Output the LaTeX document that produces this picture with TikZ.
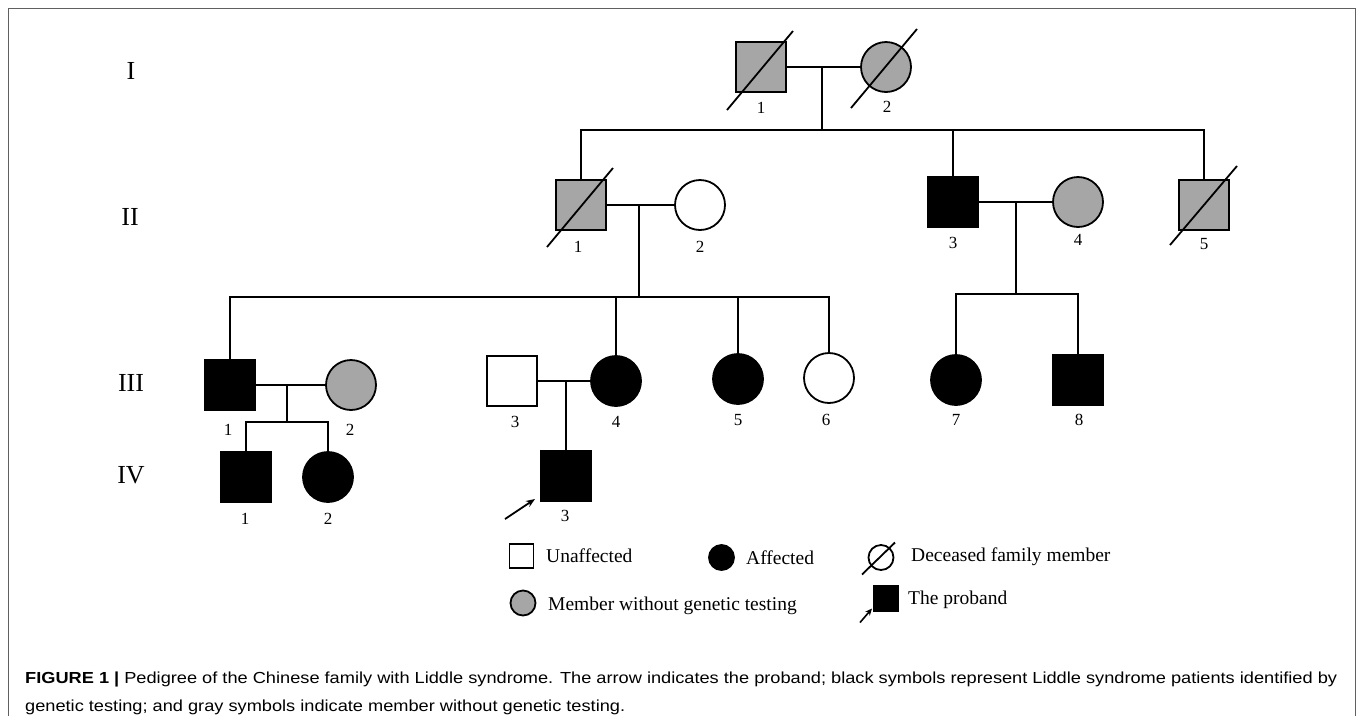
\documentclass[tikz,border=0pt]{standalone}
\usepackage{fontspec}
\setmainfont{Liberation Serif}
\newfontfamily\capfont{Liberation Sans}
\usetikzlibrary{arrows.meta}
\definecolor{pgray}{HTML}{A6A6A6}
\definecolor{framegray}{HTML}{606060}
\definecolor{captext}{HTML}{333333}
\newsavebox\capboxA
\newsavebox\capboxB
\begin{document}
\sbox\capboxA{\capfont\fontsize{16}{19}\selectfont\textbf{FIGURE 1 |} Pedigree of the Chinese family with Liddle syndrome. The arrow indicates the proband; black symbols represent Liddle syndrome patients identified by}%
\sbox\capboxB{\capfont\fontsize{16}{19}\selectfont genetic testing; and gray symbols indicate member without genetic testing.}%
\pgfmathsetmacro\capsc{1312/\wd\capboxA}%
\begin{tikzpicture}[x=1pt,y=-1pt,
  pline/.style={line width=1.8pt,line cap=rect},
  male/.style={rectangle,draw,line width=1.8pt,minimum size=50pt,inner sep=0pt},
  female/.style={circle,draw,line width=1.8pt,minimum size=50pt,inner sep=0pt},
  lmale/.style={rectangle,draw,line width=1.8pt,minimum size=24pt,inner sep=0pt},
  lfemale/.style={circle,draw,line width=1.8pt,minimum size=25pt,inner sep=0pt},
  aff/.style={fill=black},
  untested/.style={fill=pgray},
  unaff/.style={fill=white},
  slash/.style={line width=1.8pt},
  lab/.style={font=\fontsize{17}{20}\selectfont,inner sep=0pt},
  gen/.style={font=\fontsize{26}{30}\selectfont,inner sep=0pt},
  legtext/.style={font=\fontsize{19.5}{23}\selectfont,inner sep=0pt,anchor=base west},
  parr/.style={line width=1.8pt,-{Stealth[length=9pt,width=7pt]}}
]
\useasboundingbox (0,0) rectangle (1357,716);
\fill[white] (0,0) rectangle (1357,716);
\draw[framegray,line width=1pt] (8,716) -- (8,8) -- (1355,8) -- (1355,716);

% generation labels
\node[gen] (gI) at (131,71) {I};
\node[gen] (gII) at (130,217) {II};
\node[gen] (gIII) at (131,383) {III};
\node[gen] (gIV) at (131,475) {IV};

% Generation I
\node[male,untested] (I1) at (761,67) {};
\node[female,untested] (I2) at (886,67) {};
\draw[slash] ([shift={(-34,43)}]I1.center) -- ([shift={(32,-36)}]I1.center);
\draw[slash] ([shift={(-35,41)}]I2.center) -- ([shift={(31,-38)}]I2.center);
\draw[pline] (I1.east) -- (I2.west);
\coordinate (mI) at (822,67);
\coordinate (sI) at (822,130);
\draw[pline] (mI) -- (sI);
\coordinate (sIL) at (581,130);
\coordinate (sIR) at (1204,130);
\draw[pline] (sIL) -- (sIR);

% Generation II
\node[male,untested] (II1) at (581,205) {};
\node[female,unaff] (II2) at (700,205) {};
\node[male,aff] (II3) at (953,202) {};
\node[female,untested] (II4) at (1078,202) {};
\node[male,untested] (II5) at (1204,205) {};
\draw[slash] ([shift={(-34,42)}]II1.center) -- ([shift={(32,-37)}]II1.center);
\draw[slash] ([shift={(-34,40)}]II5.center) -- ([shift={(33,-39)}]II5.center);
\draw[pline] (sIL) -- (II1.north);
\coordinate (dII3) at (953,130);
\draw[pline] (dII3) -- (II3.north);
\draw[pline] (sIR) -- (II5.north);
\draw[pline] (II1.east) -- (II2.west);
\draw[pline] (II3.east) -- (II4.west);
\coordinate (mII1) at (639,205);
\coordinate (sII1) at (639,297);
\draw[pline] (mII1) -- (sII1);
\coordinate (mII3) at (1016,202);
\coordinate (sII3) at (1016,294);
\draw[pline] (mII3) -- (sII3);

% Generation III
\node[male,aff] (III1) at (230,385) {};
\node[female,untested] (III2) at (351,385) {};
\node[male,unaff] (III3) at (512,381) {};
\node[female,aff] (III4) at (616,381) {};
\node[female,aff] (III5) at (738,379) {};
\node[female,unaff] (III6) at (829,378) {};
\node[female,aff] (III7) at (956,380) {};
\node[male,aff] (III8) at (1078,380) {};
\coordinate (sIIL) at (230,297);
\coordinate (sIIR) at (829,297);
\draw[pline] (sIIL) -- (sIIR);
\draw[pline] (sIIL) -- (III1.north);
\draw[pline] (616,297) -- (III4.north);
\draw[pline] (738,297) -- (III5.north);
\draw[pline] (sIIR) -- (III6.north);
\coordinate (sIIbL) at (956,294);
\coordinate (sIIbR) at (1078,294);
\draw[pline] (sIIbL) -- (sIIbR);
\draw[pline] (sIIbL) -- (III7.north);
\draw[pline] (sIIbR) -- (III8.north);
\draw[pline] (III1.east) -- (III2.west);
\draw[pline] (III3.east) -- (III4.west);
\coordinate (mIII1) at (287,385);
\coordinate (sIII1) at (287,422);
\draw[pline] (mIII1) -- (sIII1);
\coordinate (sIII1L) at (246,422);
\coordinate (sIII1R) at (328,422);
\draw[pline] (sIII1L) -- (sIII1R);
\coordinate (mIII3) at (566,381);

% Generation IV
\node[male,aff] (IV1) at (246,477) {};
\node[female,aff] (IV2) at (328,477) {};
\node[male,aff] (IV3) at (566,476) {};
\draw[pline] (sIII1L) -- (IV1.north);
\draw[pline] (sIII1R) -- (IV2.north);
\draw[pline] (mIII3) -- (IV3.north);
\draw[parr] ([shift={(-61,43)}]IV3.center) -- ([shift={(-31,23)}]IV3.center);

% individual numbers
\node[lab] at ([yshift=-41pt]I1.center) {1};
\node[lab] at ([yshift=-40pt,xshift=1pt]I2.center) {2};
\node[lab] at ([yshift=-42pt,xshift=-3pt]II1.center) {1};
\node[lab] at ([yshift=-42pt]II2.center) {2};
\node[lab] at ([yshift=-41pt]II3.center) {3};
\node[lab] at ([yshift=-38pt]II4.center) {4};
\node[lab] at ([yshift=-39pt]II5.center) {5};
\node[lab] at ([yshift=-45pt,xshift=-2pt]III1.center) {1};
\node[lab] at ([yshift=-45pt,xshift=-1pt]III2.center) {2};
\node[lab] at ([yshift=-41pt,xshift=3pt]III3.center) {3};
\node[lab] at ([yshift=-41pt]III4.center) {4};
\node[lab] at ([yshift=-41pt]III5.center) {5};
\node[lab] at ([yshift=-42pt,xshift=-3pt]III6.center) {6};
\node[lab] at ([yshift=-40pt]III7.center) {7};
\node[lab] at ([yshift=-40pt,xshift=1pt]III8.center) {8};
\node[lab] at ([yshift=-42pt,xshift=-1pt]IV1.center) {1};
\node[lab] at ([yshift=-42pt]IV2.center) {2};
\node[lab] at ([yshift=-40pt,xshift=-1pt]IV3.center) {3};

% legend
\node[lmale,unaff] (LU) at (521.5,556) {};
\node[legtext] (LUt) at (546,562) {Unaffected};
\node[lfemale,aff] (LA) at (721.5,557.5) {};
\node[legtext] (LAt) at (746,564) {Affected};
\node[lfemale] (LD) at (881,557.5) {};
\draw[slash] ([shift={(-19,17)}]LD.center) -- ([shift={(14,-15)}]LD.center);
\node[legtext] (LDt) at (911,561) {Deceased family member};
\node[lfemale,untested] (LM) at (523,603) {};
\node[legtext] (LMt) at (548,610) {Member without genetic testing};
\node[lmale,aff,minimum size=25pt] (LP) at (886,598.5) {};
\draw[line width=1.6pt,-{Stealth[length=7pt,width=6pt]}] ([shift={(-26,24)}]LP.center) -- ([shift={(-14,10)}]LP.center);
\node[legtext] (LPt) at (908,604) {The proband};

% caption
\node[anchor=base west,inner sep=0pt,text=captext] (cap1) at (25,683) {\scalebox{\capsc}[1]{\usebox\capboxA}};
\node[anchor=base west,inner sep=0pt,text=captext] (cap2) at (25,711) {\scalebox{\capsc}[1]{\usebox\capboxB}};
\end{tikzpicture}
\end{document}
